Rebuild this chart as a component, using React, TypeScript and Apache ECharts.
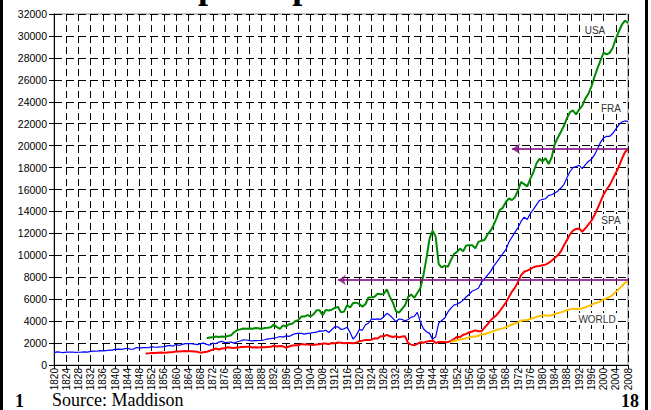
import React, { useEffect, useRef } from "react";
import * as echarts from "echarts";

// ---- Data (GDP per capita, Maddison) ----
const xTicks = { min: 1820, max: 2008, step: 4 };
const yTicks = { min: 0, max: 32000, step: 2000 };

const fraStart = 1820;
const fraValues = [
  1135, 1193, 1165, 1130, 1180, 1169, 1184, 1149, 1162, 1169,
  1191, 1179, 1248, 1260, 1254, 1303, 1284, 1302, 1359, 1358,
  1428, 1450, 1433, 1472, 1525, 1452, 1438, 1596, 1533, 1582,
  1597, 1574, 1672, 1618, 1635, 1640, 1679, 1739, 1785, 1706,
  1892, 1772, 1878, 1946, 1948, 1935, 1897, 1858, 1955, 1993,
  1876, 1809, 2006, 1936, 2092, 2160, 2039, 2076, 2079, 1991,
  2120, 2191, 2286, 2278, 2230, 2198, 2222, 2232, 2235, 2304,
  2376, 2412, 2450, 2505, 2596, 2538, 2652, 2605, 2744, 2865,
  2876, 2880, 2820, 2880, 2910, 2960, 2990, 3110, 3090, 3170,
  2965, 3233, 3483, 3485, 3236, 3300, 3450, 2950, 2350, 2700,
  3227, 3174, 3665, 3805, 4203, 4166, 4211, 4157, 4397, 4710,
  4532, 4255, 3959, 4194, 4153, 4033, 4150, 4367, 4424, 4793,
  3934, 3303, 3034, 2882, 2357, 2573, 3819, 4064, 4286, 4826,
  5186, 5461, 5564, 5684, 5915, 6199, 6452, 6752, 6856, 6991,
  7546, 7868, 8184, 8534, 9017, 9385, 9768, 10158, 10510, 11204,
  11664, 12112, 12528, 13114, 13471, 13275, 13789, 14194, 14602, 15001,
  15106, 15155, 15460, 15524, 15677, 15847, 16133, 16446, 17068, 17641,
  18000, 18100, 18200, 17900, 18250, 18550, 18750, 19150, 19700, 20300,
  20700, 20850, 20850, 21100, 21500, 21900, 22150, 22250, 22200,
];

const usaStart = 1870;
const usaValues = [
  2445, 2503, 2520, 2596, 2547, 2599, 2570, 2636, 2713, 2983,
  3184, 3247, 3320, 3311, 3336, 3297, 3373, 3347, 3291, 3371,
  3392, 3448, 3680, 3443, 3296, 3617, 3511, 3713, 3760, 3989,
  4091, 4418, 4413, 4556, 4438, 4611, 4981, 4983, 4548, 5007,
  4964, 5045, 5197, 5301, 4799, 4864, 5459, 5248, 5659, 5680,
  5552, 5323, 5540, 6164, 6173, 6224, 6490, 6458, 6466, 6899,
  6213, 5691, 4908, 4777, 5114, 5467, 6204, 6430, 6126, 6561,
  7010, 8206, 9741, 11518, 12241, 11709, 9197, 8886, 9065, 8944,
  9561, 10116, 10316, 10613, 10359, 10897, 10914, 10920, 10631, 11230,
  11328, 11402, 11905, 12242, 12773, 13419, 14134, 14330, 14863, 15179,
  15030, 15304, 15944, 16689, 16491, 16284, 16975, 17567, 18373, 18789,
  18577, 18856, 18325, 18920, 20123, 20717, 21236, 21788, 22499, 23059,
  23201, 22849, 23298, 23616, 24284, 24703, 25381, 26254, 27043, 27780,
  28467, 28325, 28456, 28924, 29736, 30427, 31023, 31400, 31178,
];

const spaStart = 1850;
const spaValues = [
  1040, 1060, 1090, 1100, 1120, 1140, 1120, 1140, 1170, 1190,
  1230, 1240, 1260, 1280, 1260, 1260, 1240, 1200, 1120, 1160,
  1200, 1300, 1400, 1500, 1420, 1500, 1520, 1620, 1570, 1560,
  1600, 1630, 1640, 1660, 1660, 1590, 1620, 1590, 1630, 1620,
  1640, 1660, 1760, 1690, 1740, 1700, 1590, 1690, 1780, 1810,
  1790, 1910, 1870, 1860, 1840, 1830, 1880, 1900, 1950, 1960,
  1900, 2010, 1990, 2060, 2020, 1980, 2010, 2010, 1980, 2020,
  2180, 2220, 2290, 2290, 2310, 2430, 2410, 2620, 2620, 2740,
  2620, 2560, 2620, 2520, 2590, 2610, 1990, 1860, 1790, 1920,
  2080, 2030, 2130, 2190, 2220, 2000, 2100, 2100, 2100, 2080,
  2190, 2360, 2580, 2550, 2750, 2830, 2980, 3060, 3160, 3070,
  3070, 3400, 3710, 4070, 4330, 4560, 4920, 5300, 5700, 6200,
  6700, 7050, 7600, 8200, 8500, 8600, 8750, 8900, 9000, 9020,
  9100, 9150, 9300, 9500, 9750, 10000, 10350, 10900, 11400, 11900,
  12250, 12400, 12450, 12150, 12450, 12800, 13150, 13650, 14250, 14900,
  15550, 16000, 16400, 16950, 17500, 18100, 18800, 19400, 19700,
];

const worldStart = 1950;
const worldValues = [
  2110, 2190, 2250, 2320, 2360, 2450, 2520, 2570, 2590, 2670,
  2780, 2820, 2900, 2980, 3110, 3190, 3290, 3340, 3450, 3580,
  3700, 3780, 3880, 4050, 4080, 4080, 4200, 4290, 4390, 4470,
  4510, 4520, 4490, 4530, 4650, 4730, 4800, 4890, 5000, 5070,
  5120, 5100, 5130, 5160, 5260, 5370, 5490, 5620, 5680, 5800,
  6000, 6070, 6200, 6400, 6680, 6930, 7200, 7480, 7600,
];

// comparison arrows: [fromYear, toYear, level]
const arrowFrom = [1970, 1913];
const arrowTo = [2008, 2008];
const arrowLevel = [19700, 7750];

const seriesNames = ["USA", "FRA", "SPA", "WORLD"];

const toPairs = (start: number, vals: number[]) => vals.map((v, i) => [start + i, v]);

export default function App() {
  const ref = useRef<HTMLDivElement>(null);

  useEffect(() => {
    document.body.style.margin = "0";
    if (!ref.current) return;
    const chart = echarts.init(ref.current, undefined, { renderer: "svg" });

    const sans = '"Liberation Sans", Arial, sans-serif';
    const serif = '"Liberation Serif", "Times New Roman", serif';
    const labelStyle = (text: string) => ({
      text,
      font: `10px ${sans}`,
      fill: "#333",
      align: "center",
      verticalAlign: "middle",
      backgroundColor: "#fff",
      padding: [1, 2],
    });

    const option: any = {
      animation: false,
      backgroundColor: "#ffffff",
      grid: {
        left: 54,
        right: 23,
        top: 14,
        bottom: 45,
        show: true,
        borderColor: "#8c8c8c",
        borderWidth: 1,
        backgroundColor: "transparent",
      },
      xAxis: {
        type: "value",
        min: xTicks.min,
        max: xTicks.max,
        interval: xTicks.step,
        axisLine: { show: true, onZero: false, lineStyle: { color: "#000", width: 1 } },
        axisTick: { show: true, length: 4, lineStyle: { color: "#000" } },
        axisLabel: {
          rotate: 90,
          margin: 3,
          fontSize: 10,
          fontFamily: sans,
          color: "#000",
          formatter: (v: number) => String(v),
        },
        splitLine: { show: true, lineStyle: { color: "#000", width: 1, type: [7, 4] } },
      },
      yAxis: {
        type: "value",
        min: yTicks.min,
        max: yTicks.max,
        interval: yTicks.step,
        axisLine: { show: true, lineStyle: { color: "#000", width: 1 } },
        axisTick: { show: true, length: 5, lineStyle: { color: "#000" } },
        axisLabel: {
          margin: 7,
          fontSize: 10.5,
          fontFamily: sans,
          color: "#000",
          formatter: (v: number) => String(v),
        },
        splitLine: { show: true, lineStyle: { color: "#000", width: 1, type: [8, 4] } },
      },
      series: [
        {
          name: seriesNames[0],
          type: "line",
          data: toPairs(usaStart, usaValues),
          symbol: "none",
          lineStyle: { color: "#008a00", width: 2 },
          z: 3,
        },
        {
          name: seriesNames[1],
          type: "line",
          data: toPairs(fraStart, fraValues),
          symbol: "none",
          lineStyle: { color: "#0000ff", width: 1.2 },
          z: 3,
        },
        {
          name: seriesNames[2],
          type: "line",
          data: toPairs(spaStart, spaValues),
          symbol: "none",
          lineStyle: { color: "#ff0000", width: 2 },
          z: 3,
        },
        {
          name: seriesNames[3],
          type: "line",
          data: toPairs(worldStart, worldValues),
          symbol: "none",
          lineStyle: { color: "#ffc000", width: 2 },
          z: 3,
          markLine: {
            silent: true,
            symbol: ["arrow", "none"],
            symbolSize: 8,
            label: { show: false },
            lineStyle: { color: "#8b1a8b", width: 2, type: "solid", opacity: 0.85 },
            itemStyle: { color: "#8b1a8b" },
            z: 10,
            data: arrowLevel.map((lvl, i) => [
              { coord: [arrowFrom[i], lvl] },
              { coord: [arrowTo[i], lvl] },
            ]),
          },
        },
      ],
      graphic: [
        { type: "rect", left: 0, top: 0, shape: { x: 0, y: 0, width: 3, height: 410 }, style: { fill: "#000" }, silent: true },
        { type: "rect", left: 645, top: 0, shape: { x: 0, y: 0, width: 3, height: 410 }, style: { fill: "#000" }, silent: true },
        {
          type: "text",
          x: 115,
          y: -14,
          style: { text: "GDP per capita", font: `bold 36px ${serif}`, fill: "#000", verticalAlign: "middle", align: "left" },
          silent: true,
        },
        { type: "text", x: 595, y: 30, style: labelStyle(seriesNames[0]), z: 20 },
        { type: "text", x: 611, y: 108, style: labelStyle(seriesNames[1]), z: 20 },
        { type: "text", x: 611, y: 220, style: labelStyle(seriesNames[2]), z: 20 },
        { type: "text", x: 597, y: 319, style: labelStyle(seriesNames[3]), z: 20 },
        { type: "text", x: 15, y: 401, style: { text: "1", font: `bold 18px ${serif}`, fill: "#000", verticalAlign: "middle" } },
        { type: "text", x: 52, y: 400, style: { text: "Source: Maddison", font: `18px ${serif}`, fill: "#000", verticalAlign: "middle" } },
        { type: "text", x: 621, y: 401, style: { text: "18", font: `bold 18px ${serif}`, fill: "#000", verticalAlign: "middle" } },
      ],
    };

    chart.setOption(option);
    return () => chart.dispose();
  }, []);

  return <div ref={ref} style={{ width: 651, height: 410 }} />;
}
